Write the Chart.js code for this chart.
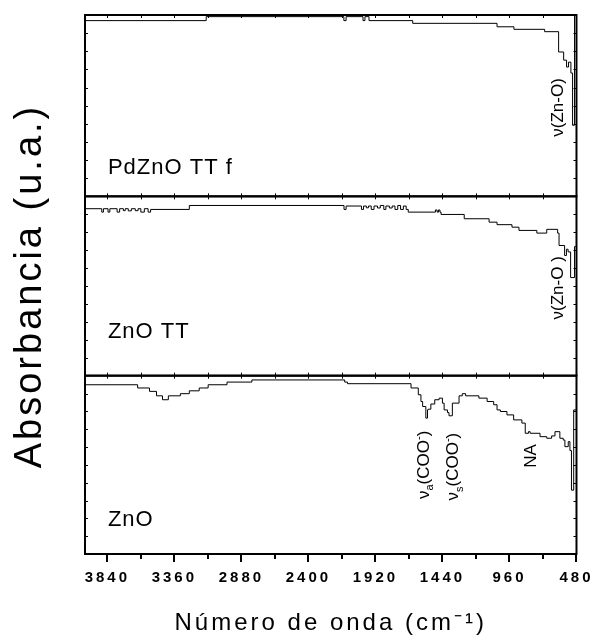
<!DOCTYPE html>
<html>
<head>
<meta charset="utf-8">
<script src="https://cdn.jsdelivr.net/npm/chart.js@4.4.1/dist/chart.umd.min.js"></script>
<style>
  html, body { margin: 0; padding: 0; background: #fff; }
  #wrap { width: 596px; height: 642px; position: relative; }
</style>
</head>
<body>
<div id="wrap"><canvas id="ftir"></canvas></div>
<script>
// wavenumber ticks (cm-1), axis runs 4000 -> 480
const xTicks = [3840, 3360, 2880, 2400, 1920, 1440, 960, 480];
const panelNames = ['PdZnO TT f', 'ZnO TT', 'ZnO'];

// [wavenumber, absorbance (arb., 0-100 inside each panel)]
const pdznoTTf = [
  [4000,95.4],[3132,96.9],[2146,99.1],[2130,96.9],[2009,99.1],[1995,96.9],[1966,99.1],[1653,96.9],
  [1049,95.4],[928,93.5],[708,92.1],[608,90.8],[572,79.6],[551,75.1],[537,71.3],[520,74.0],
  [508,68.0],[494,39.2],[486,100],[480,100]
];
const znoTT = [
  [4000,91.2],[3880,93.1],[3868,91.2],[3835,93.1],[3822,91.2],[3770,93.1],[3752,91.2],[3725,93.1],
  [3712,92.0],[3690,93.1],[3668,91.9],[3640,93.1],[3620,92.0],[3600,93.1],[3575,91.2],[3548,93.1],
  [3530,91.2],[3253,92.7],[2145,94.9],[2130,92.7],[2020,94.6],[2005,92.7],[1985,94.6],[1970,93.6],
  [1950,94.6],[1930,92.7],[1905,94.6],[1885,93.5],[1860,94.9],[1845,92.7],[1820,94.6],[1800,93.5],
  [1780,94.6],[1760,92.7],[1740,94.9],[1720,92.7],[1700,94.6],[1685,92.7],[1490,91.2],[1478,92.4],
  [1468,91.2],[1458,92.4],[1450,91.2],[1284,89.9],[1106,87.5],[1049,85.6],[942,84.2],[892,82.8],
  [764,81.0],[693,79.5],[615,81.6],[605,79.5],[565,72.6],[552,67.0],[540,70.5],[522,69.0],
  [494,54.7],[486,72.0],[480,72.0]
];
const zno = [
  [4000,96.4],[3623,94.9],[3538,93.1],[3488,91.2],[3445,88.7],[3403,86.5],[3317,88.7],[3253,89.9],
  [3182,91.5],[3118,93.1],[2983,94.9],[2805,96.4],[2140,97.6],[2120,96.4],[1665,95.5],[1613,93.1],
  [1594,89.3],[1582,85.5],[1559,82.7],[1547,76.2],[1542,80.8],[1523,81.2],[1495,84.1],[1464,86.5],
  [1440,87.4],[1428,84.6],[1404,80.8],[1393,79.3],[1369,77.5],[1321,84.6],[1298,88.7],[1274,89.9],
  [1179,88.7],[1120,87.4],[1073,85.5],[1049,83.7],[1025,80.8],[978,79.9],[930,78.0],[871,75.2],
  [847,73.4],[824,67.7],[812,68.6],[741,67.7],[693,65.8],[658,64.9],[634,66.2],[599,68.6],
  [575,64.9],[563,63.9],[539,60.2],[527,63.0],[516,58.0],[500,35.8],[490,80.8],[480,80.8]
];

// band assignments: panel, anchor (wavenumber, absorbance), text parts
const bandLabels = [
  { panel: 0, wn: 622, abs: 49, parts: [['ν'], ['(Zn-O)']] },
  { panel: 1, wn: 622, abs: 49, parts: [['ν'], ['(Zn-O )']] },
  { panel: 2, wn: 1582, abs: 50, parts: [['ν'], ['a', 'sub'], ['(COO'], ['-', 'sup'], [')']] },
  { panel: 2, wn: 1369, abs: 49, parts: [['ν'], ['s', 'sub'], ['(COO'], ['-', 'sup'], [')']] },
  { panel: 2, wn: 814, abs: 55, parts: [['NA']] }
];
const nameAnchors = [[3836, 15.5], [3836, 24.6], [3836, 18.9]];

const FAM = "'Liberation Sans', Arial, sans-serif";
const yIds = ['yTop', 'yMid', 'yBot'];
const series = [pdznoTTf, znoTT, zno];

function drawParts(ctx, parts, x, y, size, rotate) {
  ctx.save();
  ctx.translate(x, y);
  if (rotate) ctx.rotate(-Math.PI / 2);
  const small = Math.round(size * 0.62);
  let total = 0;
  parts.forEach(p => { ctx.font = (p[1] ? small : size) + 'px ' + FAM; total += ctx.measureText(p[0]).width; });
  let cx = -total / 2;
  ctx.textBaseline = 'alphabetic';
  ctx.textAlign = 'left';
  parts.forEach(p => {
    ctx.font = (p[1] ? small : size) + 'px ' + FAM;
    const dy = p[1] === 'sub' ? size * 0.28 : p[1] === 'sup' ? -size * 0.42 : 0;
    ctx.fillText(p[0], cx, size * 0.36 + dy);
    cx += ctx.measureText(p[0]).width;
  });
  ctx.restore();
}

// the old plotting program spaced its axis lettering out
const spacing = {
  id: 'spacing',
  beforeDraw(chart) { chart.ctx.letterSpacing = '3px'; },
  beforeDatasetsDraw(chart) { chart.ctx.letterSpacing = '0px'; }
};

const panels = {
  id: 'panels',
  afterDatasetsDraw(chart) {
    const ctx = chart.ctx;
    const x = chart.scales.x;
    const {left, right} = chart.chartArea;
    ctx.save();
    ctx.letterSpacing = '0px';
    ctx.strokeStyle = '#000';
    ctx.fillStyle = '#000';
    yIds.forEach((id, i) => {
      const ys = chart.scales[id];
      // frame
      ctx.lineWidth = 2;
      ctx.strokeRect(left, ys.top, right - left, ys.bottom - ys.top);
      // small ticks on the frame
      ctx.lineWidth = 1;
      ctx.beginPath();
      for (let v = 10; v < 100; v += 10) {
        const py = Math.round(ys.getPixelForValue(v)) + 0.5;
        ctx.moveTo(left, py); ctx.lineTo(left + 3, py);
        ctx.moveTo(right - 3, py); ctx.lineTo(right, py);
      }
      for (let w = 720; w < 4000; w += 240) {
        const px = Math.round(x.getPixelForValue(w)) + 0.5;
        ctx.moveTo(px, ys.top - 1); ctx.lineTo(px, ys.top + 3);
        if (i < 2) { ctx.moveTo(px, ys.bottom - 3); ctx.lineTo(px, ys.bottom + 1); }
      }
      ctx.stroke();
      // sample name
      ctx.font = '22px ' + FAM;
      ctx.letterSpacing = '1px';
      ctx.textAlign = 'left';
      ctx.textBaseline = 'middle';
      ctx.fillText(panelNames[i], x.getPixelForValue(nameAnchors[i][0]), ys.getPixelForValue(nameAnchors[i][1]));
      ctx.letterSpacing = '0px';
    });
    // minor ticks under the bottom axis
    const yb = chart.scales.yBot.bottom;
    ctx.lineWidth = 2;
    ctx.beginPath();
    for (let w = 720; w < 4000; w += 480) {
      const px = Math.round(x.getPixelForValue(w));
      ctx.moveTo(px, yb); ctx.lineTo(px, yb + 5);
    }
    ctx.stroke();
    // band labels
    bandLabels.forEach(b => {
      const ys = chart.scales[yIds[b.panel]];
      drawParts(ctx, b.parts, x.getPixelForValue(b.wn), ys.getPixelForValue(b.abs), 17, true);
    });
    ctx.restore();
  }
};

const panelWeights = [181, 179, 178];
const scales = {
  x: {
    type: 'linear', position: 'bottom', reverse: true, min: 480, max: 4000,
    afterBuildTicks: s => { s.ticks = xTicks.map(v => ({ value: v })); },
    afterFit: s => { s.height = 88; },
    border: { display: false },
    grid: { drawOnChartArea: false, tickLength: 8, color: '#000', lineWidth: 2 },
    ticks: { color: '#000', padding: 7, maxRotation: 0, autoSkip: false,
             callback: v => String(v),
             font: { family: FAM, size: 15, weight: 'bold' } },
    title: { display: true, text: 'Número de onda (cm⁻¹)', color: '#000',
             font: { family: FAM, size: 24 }, padding: { top: 0, bottom: 4 } }
  }
};
// stacked left axes are placed bottom-first, so add them in reverse
[2, 1, 0].forEach(i => {
  scales[yIds[i]] = {
    type: 'linear', position: 'left', stack: 'panels', stackWeight: panelWeights[i],
    min: 0, max: 100,
    afterFit: s => { s.width = 85; },
    border: { display: false },
    grid: { display: false },
    ticks: { display: false, stepSize: 10 },
    title: { display: i === 1, text: 'Absorbancia (u.a.)', color: '#000',
             font: { family: FAM, size: 38, lineHeight: 1.2 }, padding: { top: 8, bottom: 0 } }
  };
});

new Chart(document.getElementById('ftir'), {
  type: 'line',
  data: {
    datasets: series.map((s, i) => ({
      label: panelNames[i],
      data: s.map(p => ({ x: p[0], y: p[1] })),
      xAxisID: 'x', yAxisID: yIds[i],
      borderColor: '#000', borderWidth: 1, pointRadius: 0,
      stepped: 'after', fill: false
    }))
  },
  options: {
    responsive: true, maintainAspectRatio: false, animation: false,
    layout: { padding: { left: 0, right: 16, top: 15, bottom: 0 } },
    plugins: { legend: { display: false }, tooltip: { enabled: false } },
    scales
  },
  plugins: [spacing, panels]
});
</script>
</body>
</html>
